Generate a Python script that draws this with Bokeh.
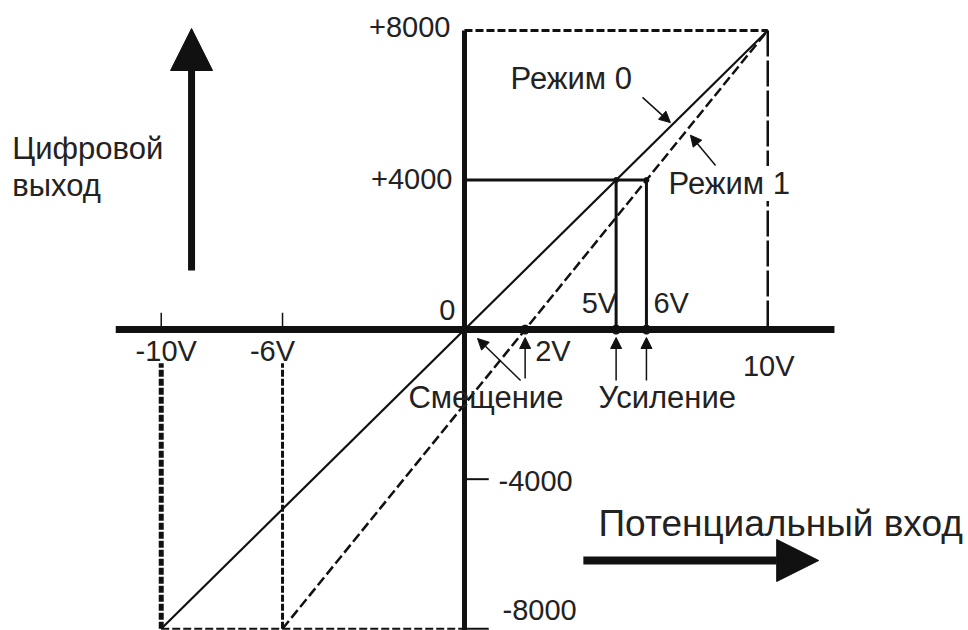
from bokeh.plotting import figure
from bokeh.models import Range1d, Arrow, NormalHead, Label, ColumnDataSource
from bokeh.core.properties import value
from bokeh.embed import file_html
from bokeh.resources import INLINE

# ---------------- data ----------------
volt_ticks = [-10, -6, 2, 5, 6, 10]
volt_labels = ["-10V", "-6V", "2V", "5V", "6V", "10V"]

code_ticks = [8000, 4000, 0, -4000, -8000]
code_labels = ["+8000", "+4000", "0", "-4000", "-8000"]

mode0_volts = [-10, 10]
mode0_codes = [-8000, 8000]
mode1_volts = [-6, 10]
mode1_codes = [-8000, 8000]

offset_volts = [0, 2]      # zero crossings (Смещение)
gain_volts = [5, 6]        # +4000 points (Усиление)
gain_code = 4000
full_volts = 10
full_code = 8000

# ---------------- style ----------------
INK = "#111111"
TXT = "#222222"
FONT_NAME = "Liberation Sans"
FONT = value(FONT_NAME)
NUM_SIZE = "29px"
LAB_SIZE = "31px"

p = figure(width=968, height=630,
           x_range=Range1d(-15.30, 16.62), y_range=Range1d(-8047, 8802),
           output_backend="svg", toolbar_location=None,
           x_axis_location=None, y_axis_location=None, min_border=0)
p.grid.visible = False
p.outline_line_color = None
p.background_fill_color = "white"

# main axes
p.line([-11.5, 12.2], [0, 0], line_width=7, color=INK)
p.line([0, 0], [full_code, -8700], line_width=5, color=INK)

# full-scale construction
p.line([0, full_volts], [full_code, full_code], line_width=3, color=INK, line_dash="8 3")
p.line([full_volts, full_volts], [full_code, 0], line_width=2.5, color=INK, line_dash="26 4")
p.line([-10, 0], [-full_code, -full_code], line_width=2, color=INK, line_dash="8 3")

# negative-range verticals
p.segment(x0=[-10], y0=[-full_code], x1=[-10], y1=[-900], line_width=5, color=INK, line_dash="7 2")
p.segment(x0=[-6], y0=[-full_code], x1=[-6], y1=[-900], line_width=3, color=INK, line_dash="7 2")
p.segment(x0=[-10, -6], y0=[0, 0], x1=[-10, -6], y1=[450, 450], line_width=1.5, color=INK)

# y-axis ticks on the right side
p.segment(x0=[0, 0], y0=[-4000, -8000], x1=[0.8, 0.8], y1=[-4000, -8000], line_width=2, color=INK)

# gain construction
p.line([0, gain_volts[1]], [gain_code, gain_code], line_width=3, color=INK)
p.segment(x0=gain_volts, y0=[0, 0], x1=gain_volts, y1=[gain_code, gain_code], line_width=3, color=INK)

# transfer lines
p.line(mode0_volts, mode0_codes, line_width=2.2, color=INK)
p.line(mode1_volts, mode1_codes, line_width=2.5, color=INK, line_dash="10 4")

# dots
p.scatter([offset_volts[1]] + gain_volts, [0, 0, 0], size=9, color=INK)
p.scatter(gain_volts, [gain_code, gain_code], size=5, color=INK)

# tick labels
va = ["center", "center", "left", "right", "left", "center"]
vdx = [5, -10, 10, 1, 7, 1]
vdy = [21, 21, 21, -27, -27, 36]
vsrc = ColumnDataSource(dict(x=volt_ticks, y=[0] * len(volt_ticks), t=volt_labels,
                             a=va, dx=vdx, dy=vdy))
p.text(x="x", y="y", text="t", text_align="a", x_offset="dx", y_offset="dy", source=vsrc,
       text_baseline="middle", text_font=FONT, text_font_size=NUM_SIZE, text_color=TXT)

ca = ["right", "right", "right", "left", "left"]
cdx = [-14, -12, -9, 34, 38]
cdy = [-3, -1, -20, 2, -19]
csrc = ColumnDataSource(dict(x=[0] * len(code_ticks), y=code_ticks, t=code_labels,
                             a=ca, dx=cdx, dy=cdy))
p.text(x="x", y="y", text="t", text_align="a", x_offset="dx", y_offset="dy", source=csrc,
       text_baseline="middle", text_font=FONT, text_font_size=NUM_SIZE, text_color=TXT)

# titles / annotations
def lab(x, y, t, size=LAB_SIZE, bg=None):
    kw = dict(x=x, y=y, text=t, text_align="left", text_baseline="middle",
              text_font=FONT_NAME, text_font_size=size, text_color=TXT)
    if bg:
        kw.update(background_fill_color=bg)
    p.add_layout(Label(**kw))

lab(-14.91, 4843, "Цифровой")
lab(-14.91, 3854, "выход")
lab(1.52, 6716, "Режим 0")
lab(6.73, 3907, "Режим 1", bg="white")
lab(-1.85, -1818, "Смещение")
lab(4.42, -1818, "Усиление")
lab(4.42, -5188, "Потенциальный вход", size="37px")

# big arrows
p.add_layout(Arrow(x_start=-9, y_start=1581, x_end=-9, y_end=8053, line_width=7, line_color=INK,
                   end=NormalHead(size=42, fill_color=INK, line_color=INK)))
p.add_layout(Arrow(x_start=3.92, y_start=-6175, x_end=11.68, y_end=-6175, line_width=8, line_color=INK,
                   end=NormalHead(size=42, fill_color=INK, line_color=INK)))

# small pointer arrows
def small(xs, ys, xe, ye):
    p.add_layout(Arrow(x_start=xs, y_start=ys, x_end=xe, y_end=ye, line_width=1.5, line_color=INK,
                       end=NormalHead(size=11, fill_color=INK, line_color=INK)))

small(5.87, 6210, 6.79, 5536)
small(8.28, 4389, 7.45, 5200)
small(1.85, -1361, 0.43, -238)
small(offset_volts[1], -1308, offset_volts[1], -211)
small(gain_volts[0], -1361, gain_volts[0], -211)
small(gain_volts[1], -1361, gain_volts[1], -211)

open("out.html", "w").write(file_html(p, INLINE))
